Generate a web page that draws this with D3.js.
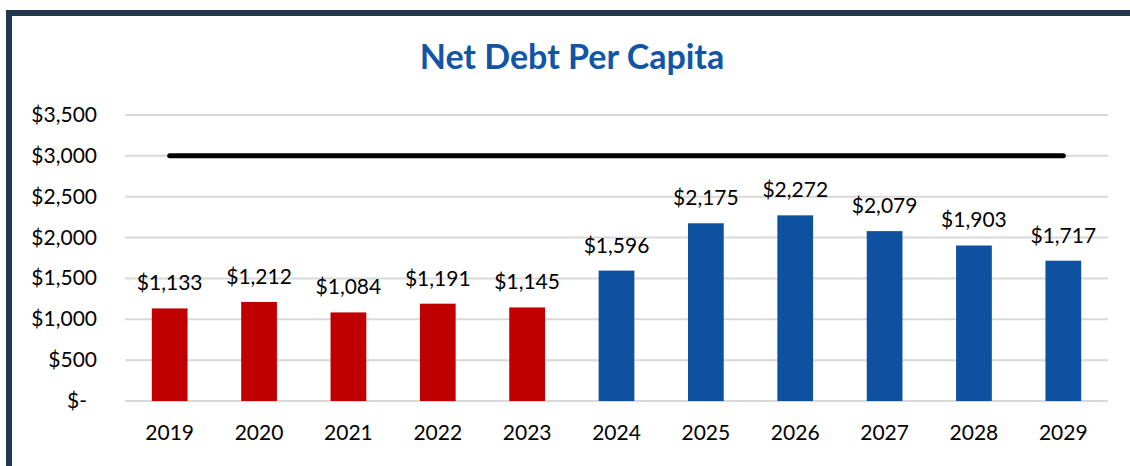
<!DOCTYPE html>
<html>
<head>
<meta charset="utf-8">
<script src="https://cdn.jsdelivr.net/npm/d3@7"></script>
<style>
  html, body { margin: 0; padding: 0; background: #fff; }
  svg { display: block; font-family: Lato, "Open Sans", sans-serif; }
</style>
</head>
<body>
<svg id="chart" width="1130" height="466"></svg>
<script>
// Net debt per capita, actual (through 2023) and projected (2024 onward)
const years = ["2019", "2020", "2021", "2022", "2023", "2024", "2025", "2026", "2027", "2028", "2029"];
const netDebt = [1133, 1212, 1084, 1191, 1145, 1596, 2175, 2272, 2079, 1903, 1717];
const isProjected = [false, false, false, false, false, true, true, true, true, true, true];
const limitValue = [3000, 3000, 3000, 3000, 3000, 3000, 3000, 3000, 3000, 3000, 3000];
const yTicks = [0, 500, 1000, 1500, 2000, 2500, 3000, 3500];

const svg = d3.select("#chart");
const W = 1130, H = 466;

const plot = { left: 125, right: 1108, top: 115, bottom: 401 };

const x = d3.scaleBand().domain(years).range([plot.left, plot.right]).paddingInner(0.6).paddingOuter(0.3);
const y = d3.scaleLinear().domain([0, 3500]).range([plot.bottom, plot.top]);

const fmt = d3.format(",");
const money = v => v === 0 ? "$-" : "$" + fmt(v);

// outer frame (top and left edges)
svg.append("rect").attr("x", 6).attr("y", 10).attr("width", W - 6).attr("height", 6).attr("fill", "#233650");
svg.append("rect").attr("x", 6).attr("y", 10).attr("width", 6).attr("height", H - 10).attr("fill", "#233650");

// title
svg.append("text")
  .attr("x", 572).attr("y", 69)
  .attr("text-anchor", "middle")
  .attr("font-size", 34).attr("font-weight", 700)
  .attr("fill", "#1156a6")
  .text("Net Debt Per Capita");

// gridlines
svg.append("g")
  .selectAll("line").data(yTicks).join("line")
  .attr("x1", plot.left).attr("x2", plot.right)
  .attr("y1", d => y(d)).attr("y2", d => y(d))
  .attr("stroke", "#d9d9d9").attr("stroke-width", 2);

// y axis labels
svg.append("g")
  .selectAll("text").data(yTicks).join("text")
  .attr("x", d => d === 0 ? 87 : 97)
  .attr("y", d => y(d) + 7)
  .attr("text-anchor", "end")
  .attr("font-size", 21).attr("fill", "#000")
  .text(money);

// bars
svg.append("g")
  .selectAll("rect").data(years).join("rect")
  .attr("x", d => x(d))
  .attr("width", x.bandwidth())
  .attr("y", (d, i) => y(netDebt[i]))
  .attr("height", (d, i) => y(0) - y(netDebt[i]))
  .attr("fill", (d, i) => isProjected[i] ? "#0f51a1" : "#c00000");

// value labels
svg.append("g")
  .selectAll("text").data(years).join("text")
  .attr("x", d => x(d) + x.bandwidth() / 2)
  .attr("y", (d, i) => y(netDebt[i]) - 18)
  .attr("text-anchor", "middle")
  .attr("font-size", 21).attr("fill", "#000")
  .text((d, i) => money(netDebt[i]));

// 3,000 limit line
const line = d3.line()
  .x(d => x(d) + x.bandwidth() / 2)
  .y((d, i) => y(limitValue[i]));
svg.append("path")
  .datum(years)
  .attr("d", line)
  .attr("fill", "none")
  .attr("stroke", "#000")
  .attr("stroke-width", 5)
  .attr("stroke-linecap", "round");

// x axis labels
svg.append("g")
  .selectAll("text").data(years).join("text")
  .attr("x", d => x(d) + x.bandwidth() / 2)
  .attr("y", 440)
  .attr("text-anchor", "middle")
  .attr("font-size", 21).attr("fill", "#000")
  .text(d => d);
</script>
</body>
</html>
